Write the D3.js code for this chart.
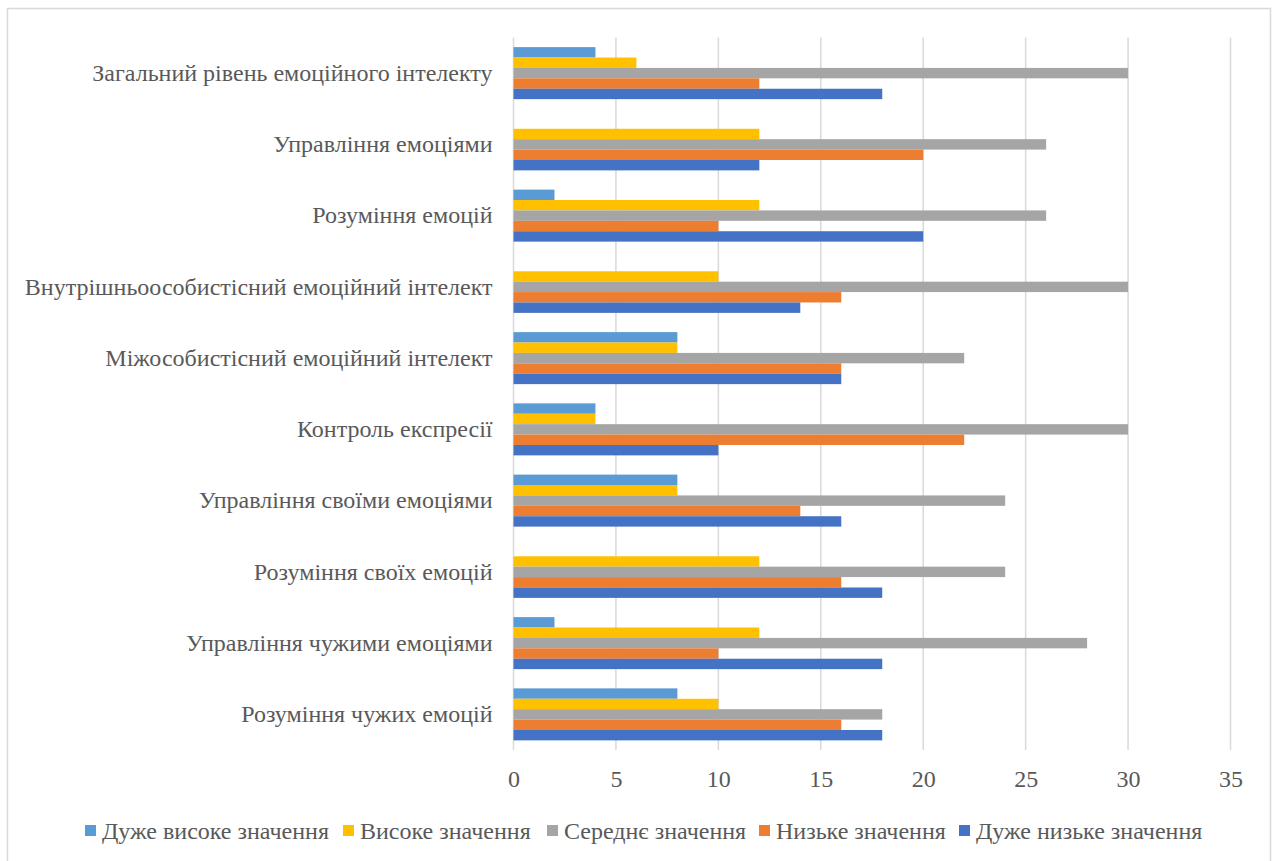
<!DOCTYPE html>
<html>
<head>
<meta charset="utf-8">
<script src="https://cdn.jsdelivr.net/npm/d3@7"></script>
<style>
  html, body { margin: 0; padding: 0; background: #fff; }
  svg { display: block; }
</style>
</head>
<body>
<svg id="chart" width="1277" height="861" font-family="Liberation Serif"></svg>
<script>
const categories = [
  "Загальний рівень емоційного інтелекту",
  "Управління емоціями",
  "Розуміння емоцій",
  "Внутрішньоособистісний емоційний інтелект",
  "Міжособистісний емоційний інтелект",
  "Контроль експресії",
  "Управління своїми емоціями",
  "Розуміння своїх емоцій",
  "Управління чужими емоціями",
  "Розуміння чужих емоцій"
];
const seriesNames = ["Дуже високе значення", "Високе значення", "Середнє значення", "Низьке значення", "Дуже низьке значення"];
const veryHigh = [4, 0, 2, 0, 8, 4, 8, 0, 2, 8];
const high     = [6, 12, 12, 10, 8, 4, 8, 12, 12, 10];
const medium   = [30, 26, 26, 30, 22, 30, 24, 24, 28, 18];
const low      = [12, 20, 10, 16, 16, 22, 14, 16, 10, 16];
const veryLow  = [18, 12, 20, 14, 16, 10, 16, 18, 18, 18];
const xTicks = [0, 5, 10, 15, 20, 25, 30, 35];
const colors = ["#5B9BD5", "#FFC000", "#A5A5A5", "#ED7D31", "#4472C4"];

const FONT = "Liberation Serif";
const TXT = "#595959";
const FS = 24;
const seriesValues = [veryHigh, high, medium, low, veryLow];
const svg = d3.select("#chart");

// frame
svg.append("rect").attr("x", 7.5).attr("y", 8.5).attr("width", 1263).attr("height", 860)
  .attr("fill", "#fff").attr("stroke", "#d9d9d9").attr("stroke-width", 1.5);

const x = d3.scaleLinear().domain([0, 35]).range([513.5, 1230.5]);
const y = d3.scaleBand().domain(categories).range([37.5, 750]).paddingInner(0.27).paddingOuter(0.135);
const ySub = d3.scaleBand().domain(seriesNames).range([0, y.bandwidth()]);

// gridlines
svg.append("g").selectAll("line").data(xTicks).join("line")
  .attr("x1", d => x(d)).attr("x2", d => x(d))
  .attr("y1", 37.5).attr("y2", 750)
  .attr("stroke", "#d9d9d9").attr("stroke-width", 1.5);

// bars
const groups = svg.append("g").selectAll("g").data(categories).join("g")
  .attr("transform", c => `translate(0,${y(c)})`);
groups.selectAll("rect")
  .data((c, i) => seriesNames.map((s, j) => ({ s, j, v: seriesValues[j][i] })))
  .join("rect")
  .attr("x", x(0))
  .attr("y", d => ySub(d.s))
  .attr("width", d => x(d.v) - x(0))
  .attr("height", ySub.bandwidth())
  .attr("fill", d => colors[d.j]);

// x axis labels
const xAxis = svg.append("g").attr("transform", "translate(0,787)")
  .call(d3.axisBottom(x).tickValues(xTicks).tickSize(0).tickPadding(0));
xAxis.attr("font-family", FONT).attr("font-size", FS);
xAxis.select(".domain").remove();
xAxis.selectAll("text").attr("y", 0).attr("dy", 0).attr("font-family", FONT).attr("fill", TXT);

// y axis labels
const yAxis = svg.append("g").attr("transform", `translate(${x(0) - 21},0)`)
  .call(d3.axisLeft(y).tickSize(0).tickPadding(0));
yAxis.attr("font-family", FONT).attr("font-size", FS);
yAxis.select(".domain").remove();
yAxis.selectAll("text").attr("font-family", FONT).attr("fill", TXT);

// legend
const legendX = [85, 343, 547, 759, 959];
const legend = svg.append("g").selectAll("g").data(seriesNames).join("g")
  .attr("transform", (d, i) => `translate(${legendX[i]},825)`);
legend.append("rect").attr("width", 11).attr("height", 11).attr("fill", (d, i) => colors[i]);
legend.append("text").attr("x", 17).attr("y", 13.5)
  .attr("font-size", FS).attr("font-family", FONT).attr("fill", TXT).text(d => d);
</script>
</body>
</html>
